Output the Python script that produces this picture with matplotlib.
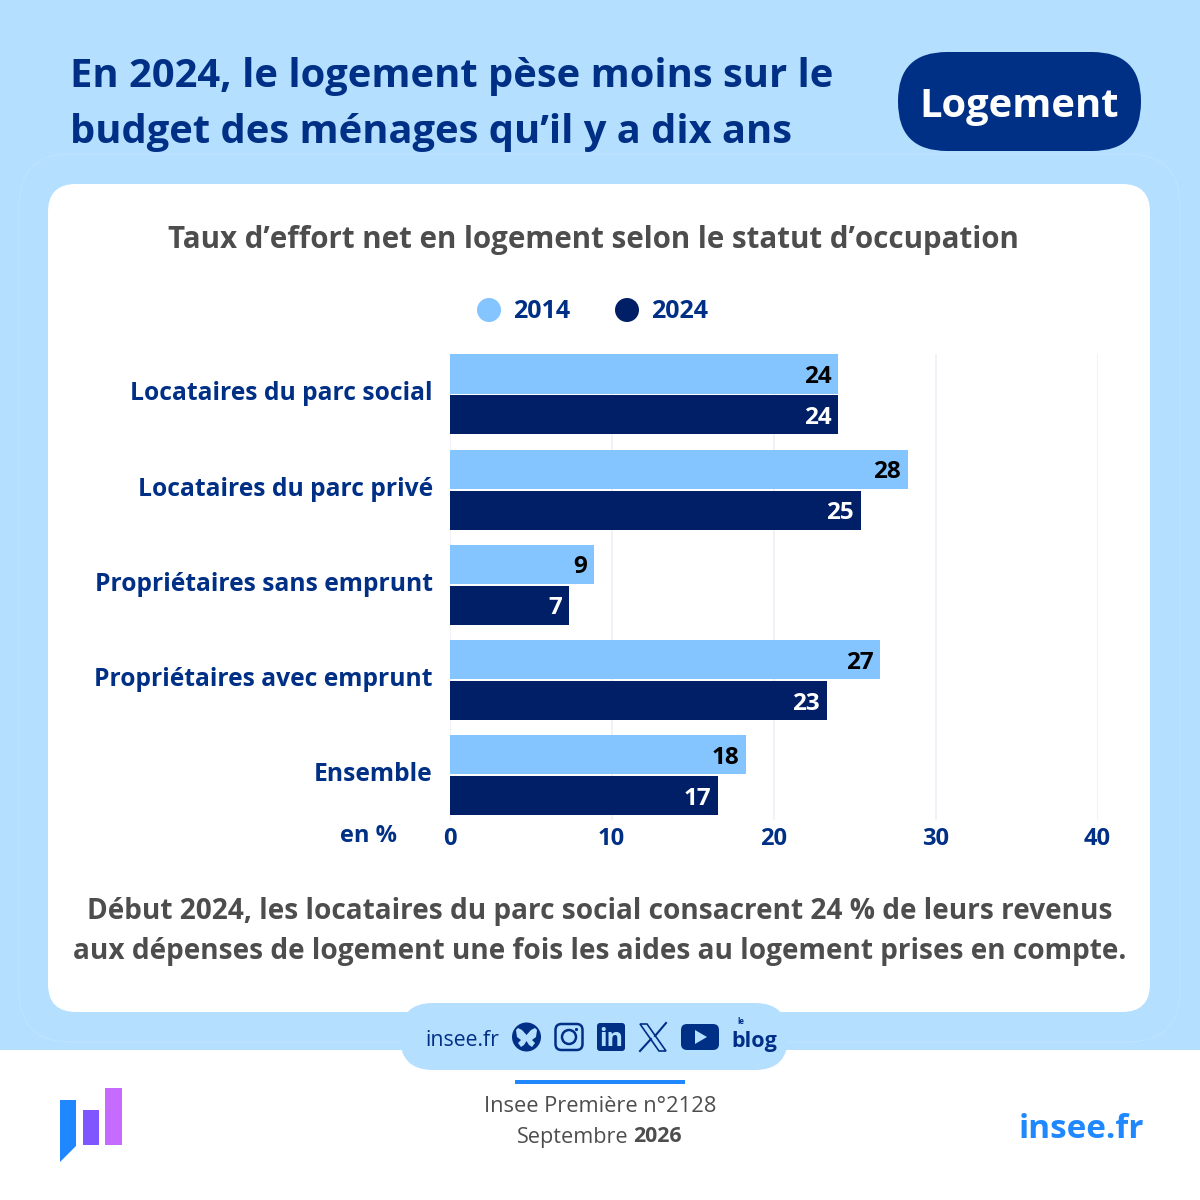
import matplotlib
matplotlib.use('Agg')
import matplotlib.pyplot as plt
from matplotlib.patches import Circle, FancyBboxPatch, Polygon, Rectangle
from matplotlib.transforms import ScaledTranslation

categories = [
    'Locataires du parc social',
    'Locataires du parc privé',
    'Propriétaires sans emprunt',
    'Propriétaires avec emprunt',
    'Ensemble',
]
values_2014 = [24.0, 28.3, 8.9, 26.6, 18.3]
values_2024 = [24.0, 25.4, 7.4, 23.3, 16.6]
labels_2014 = ['24', '28', '9', '27', '18']
labels_2024 = ['24', '25', '7', '23', '17']
x_ticks = [0, 10, 20, 30, 40]

BG = '#B5DFFF'
NAVY = '#002F86'
LIGHT = '#84C4FF'
DARK = '#001F66'
GREY = '#4D4D4D'
BRIGHT = '#2088FF'

plt.rcParams['font.family'] = ['Open Sans', 'DejaVu Sans']

fig = plt.figure(figsize=(12, 12), dpi=100, facecolor=BG)

# page decoration, in pixels
bg = fig.add_axes([0, 0, 1, 1])
bg.set_xlim(0, 1200)
bg.set_ylim(1200, 0)
bg.axis('off')


def round_box(x0, y0, x1, y1, r, **kw):
    box = FancyBboxPatch((x0 + r, y0 + r), x1 - x0 - 2 * r, y1 - y0 - 2 * r,
                         boxstyle=f'round,pad={r},rounding_size={r}', **kw)
    bg.add_patch(box)
    return box


bg.add_patch(Rectangle((0, 1050), 1200, 150, fc='white', ec='none'))
round_box(19, 154, 1180, 1042, 52, fc='none', ec='#C2E5FF', lw=0.6)
round_box(48, 184, 1150, 1012, 28, fc='white', ec='none')

bg.text(70, 77, 'En 2024, le logement pèse moins sur le', color=NAVY,
        fontsize=28.75, fontweight='bold', va='center')
bg.text(70, 133, 'budget des ménages qu’il y a dix ans', color=NAVY,
        fontsize=28.75, fontweight='bold', va='center')
round_box(898, 52, 1141, 151, 49, fc=NAVY, ec='none')
bg.text(1019.5, 107, 'Logement', color='white', fontsize=28.75,
        fontweight='bold', ha='center', va='center')

bg.text(593, 240, 'Taux d’effort net en logement selon le statut d’occupation',
        color=GREY, fontsize=21.25, fontweight='bold', ha='center', va='center')

# legend
bg.add_patch(Circle((489, 310), 12, fc=LIGHT, ec='none'))
bg.text(513, 312, '2014', color=NAVY, fontsize=18, fontweight='bold', va='center')
bg.add_patch(Circle((627, 310), 12, fc=DARK, ec='none'))
bg.text(651, 312, '2024', color=NAVY, fontsize=18, fontweight='bold', va='center')

bg.text(600, 912, 'Début 2024, les locataires du parc social consacrent 24 % de leurs revenus',
        color=GREY, fontsize=20.2, fontweight='bold', ha='center', va='center')
bg.text(600, 952, 'aux dépenses de logement une fois les aides au logement prises en compte.',
        color=GREY, fontsize=20.2, fontweight='bold', ha='center', va='center')
bg.text(397, 836, 'en %', color=NAVY, fontsize=17, fontweight='bold', ha='right', va='center')

# social media pill
round_box(400, 1003, 788, 1070, 33, fc=BG, ec='none')
bg.text(425, 1040, 'insee.fr', color=NAVY, fontsize=15.3, va='center')
bg.add_patch(Circle((526.5, 1037), 14.5, fc=NAVY, ec='none'))
bg.add_patch(Polygon([(526.5, 1035), (522, 1030), (518, 1028), (516, 1030), (517, 1037), (521, 1040),
                      (518, 1043), (521, 1047), (524, 1045), (526.5, 1041), (529, 1045), (532, 1047),
                      (535, 1043), (532, 1040), (536, 1037), (537, 1030), (535, 1028), (531, 1030)],
                     fc=BG, ec='none'))
round_box(555.5, 1024, 582.5, 1050, 6, fc='none', ec=NAVY, lw=1.8)
bg.add_patch(Circle((569, 1037), 7, fc='none', ec=NAVY, lw=1.8))
bg.add_patch(Circle((576.5, 1029.5), 1.6, fc=NAVY, ec='none'))
round_box(597, 1023, 625, 1051, 3, fc=NAVY, ec='none')
bg.text(611, 1039, 'in', color=BG, fontsize=18, fontweight='bold', ha='center', va='center')
bg.add_patch(Polygon([(640, 1024), (647, 1024), (666, 1051), (659, 1051)], fc=BG, ec=NAVY, lw=1.2))
bg.plot([666, 655], [1023, 1036], color=NAVY, lw=1.5)
bg.plot([651, 640], [1039, 1051], color=NAVY, lw=1.5)
round_box(681, 1024, 719, 1050, 6, fc=NAVY, ec='none')
bg.add_patch(Polygon([(695, 1030), (695, 1044), (707, 1037)], fc=BG, ec='none'))
bg.text(754.5, 1042, 'blog', color=NAVY, fontsize=15.5, fontweight='bold', ha='center', va='center')
bg.text(741, 1022, 'le', color=NAVY, fontsize=5.5, fontweight='bold', ha='center', va='center')

# footer
bg.add_patch(Rectangle((515, 1080), 170, 4, fc=BRIGHT, ec='none'))
bg.text(600, 1107, 'Insee Première n°2128', color=GREY, fontsize=15.75,
        ha='center', va='center')
bg.text(629, 1137, 'Septembre', color=GREY, fontsize=15.6, ha='right', va='center')
bg.text(633, 1137, '2026', color=GREY, fontsize=15.3, fontweight='bold', va='center')
bg.text(1144, 1129, 'insee.fr', color=BRIGHT, fontsize=24, fontweight='bold', ha='right', va='center')

# logo
bg.add_patch(Polygon([(60, 1100), (76, 1100), (76, 1146), (60, 1162)], fc=BRIGHT, ec='none'))
bg.add_patch(Rectangle((83, 1110), 16, 35, fc='#7F56FF', ec='none'))
bg.add_patch(Rectangle((105, 1088), 17, 57, fc='#C66BFF', ec='none'))

# the bars
ax = fig.add_axes([449.5 / 1200, 1 - 820 / 1200, 648 / 1200, 466 / 1200], zorder=3)
ax.patch.set_alpha(0)
positions = range(len(categories))
bars_2014 = ax.barh([p - 0.215 for p in positions], values_2014, height=0.41, color=LIGHT, zorder=2)
bars_2024 = ax.barh([p + 0.215 for p in positions], values_2024, height=0.41, color=DARK, zorder=2)
labels = ax.bar_label(bars_2014, labels=labels_2014, padding=-5, color='black', fontsize=17.5,
                      fontweight='bold')
labels += ax.bar_label(bars_2024, labels=labels_2024, padding=-5, color='white', fontsize=17.5,
                       fontweight='bold')
for label in labels:
    label.set_ha('right')
    label.set_va('center_baseline')

ax.set_xlim(0, 40)
ax.set_ylim(4.47, -0.425)
ax.set_xticks(x_ticks)
ax.set_xticklabels(x_ticks, color=NAVY, fontsize=17, fontweight='bold')
ax.set_yticks(list(positions))
ax.set_yticklabels(categories, color=NAVY, fontsize=17.75, fontweight='bold')
ax.tick_params(axis='both', length=0)
ax.tick_params(axis='x', pad=5)
ax.tick_params(axis='y', pad=12)
for label in ax.get_yticklabels():
    label.set_transform(label.get_transform() + ScaledTranslation(0, 2.5 / 72, fig.dpi_scale_trans))
ax.grid(axis='x', color='#EEF0F6', linewidth=1.2, zorder=0)
ax.set_axisbelow(True)
for spine in ax.spines.values():
    spine.set_visible(False)

fig.savefig('out.png', dpi=100, facecolor=BG)
